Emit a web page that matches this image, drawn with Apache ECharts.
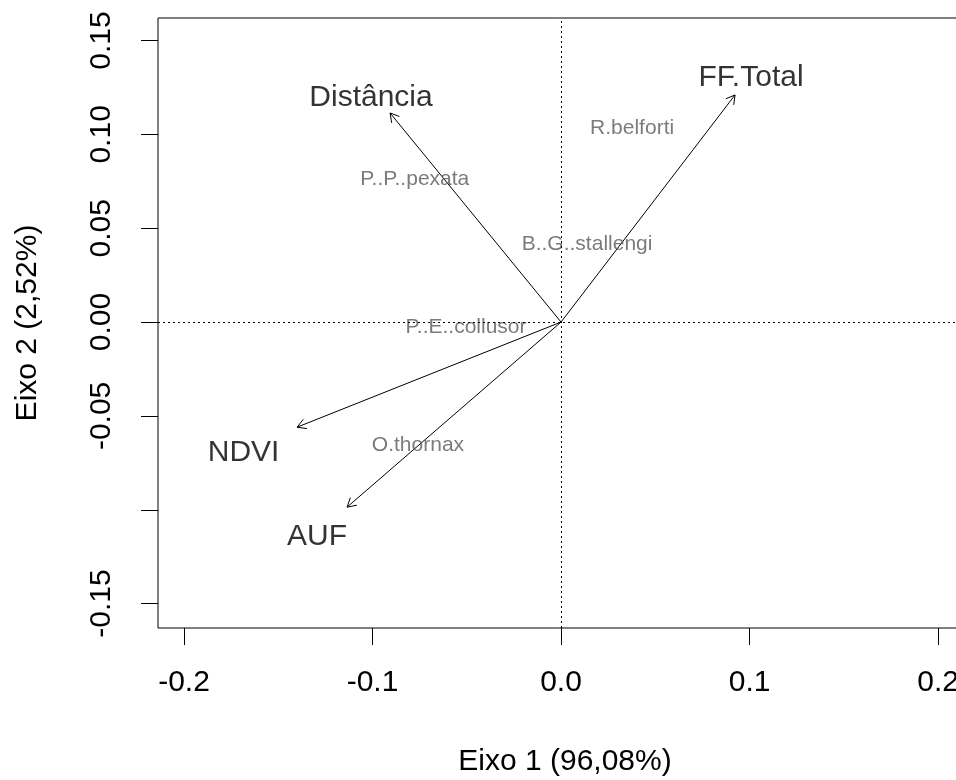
<!DOCTYPE html>
<html>
<head>
<meta charset="utf-8">
<script src="https://cdn.jsdelivr.net/npm/echarts@6/dist/echarts.min.js"></script>
<style>
html,body{margin:0;padding:0;background:#fff;}
#chart{width:956px;height:780px;}
</style>
</head>
<body>
<div id="chart"></div>
<script>
// Axis ticks
const xTicks = [-0.2, -0.1, 0, 0.1, 0.2];
const yTicks = [-0.15, -0.1, -0.05, 0, 0.05, 0.1, 0.15];
const yTickLabels = [-0.15, -0.05, 0, 0.05, 0.1, 0.15];

// Environmental vectors (arrow tips)
const envNames = ['FF.Total', 'Distância', 'NDVI', 'AUF'];
const envX = [0.0923, -0.0907, -0.140, -0.1135];
const envY = [0.121, 0.1114, -0.056, -0.0986];
// Environmental label positions
const envLabelX = [0.1008, -0.1008, -0.1684, -0.1294];
const envLabelY = [0.130, 0.1195, -0.0695, -0.1145];

// Species scores
const spNames = ['R.belforti', 'P..P..pexata', 'B..G..stallengi', 'P..E..collusor', 'O.thornax'];
const spX = [0.0377, -0.0776, 0.0138, -0.0504, -0.0759];
const spY = [0.1032, 0.0763, 0.0416, -0.0026, -0.0655];

const FONT = 'Liberation Sans, Arial, sans-serif';

const arrowData = envX.map((x, i) => [x, envY[i]]);
const envLabelData = envNames.map((n, i) => ({ name: n, value: [envLabelX[i], envLabelY[i]] }));
const spData = spNames.map((n, i) => ({ name: n, value: [spX[i], spY[i]] }));

const chart = echarts.init(document.getElementById('chart'), null, { renderer: 'canvas' });

chart.setOption({
  backgroundColor: '#fff',
  animation: false,
  grid: {
    left: 158, top: 18, bottom: 152, right: -16,
    outerBoundsMode: 'none',
    containLabel: false,
    show: true, borderColor: '#000', borderWidth: 1, backgroundColor: 'transparent'
  },
  xAxis: {
    type: 'value', min: -0.2138, max: 0.218,
    name: 'Eixo 1 (96,08%)', nameLocation: 'middle', nameGap: 119,
    nameTextStyle: { fontFamily: FONT, fontSize: 30, color: '#000' },
    axisLine: { show: false, onZero: false },
    axisTick: { show: true, inside: false, length: 17, lineStyle: { color: '#000', width: 1 }, customValues: xTicks },
    axisLabel: {
      show: true, margin: 40, fontFamily: FONT, fontSize: 30, color: '#000',
      customValues: xTicks,
      formatter: v => v.toFixed(1)
    },
    splitLine: { show: false }
  },
  yAxis: {
    type: 'value', min: -0.163, max: 0.162,
    name: 'Eixo 2 (2,52%)', nameLocation: 'middle', nameGap: 115, nameRotate: 90,
    nameTextStyle: { fontFamily: FONT, fontSize: 30, color: '#000' },
    axisLine: { show: false, onZero: false },
    axisTick: { show: true, inside: false, length: 17, lineStyle: { color: '#000', width: 1 }, customValues: yTicks },
    axisLabel: {
      show: true, margin: 41, rotate: 90, fontFamily: FONT, fontSize: 30, color: '#000',
      customValues: yTickLabels,
      formatter: v => v.toFixed(2)
    },
    splitLine: { show: false }
  },
  series: [
    {
      type: 'custom',
      silent: true,
      data: arrowData,
      renderItem: function (params, api) {
        const p0 = api.coord([0, 0]);
        const p1 = api.coord([api.value(0), api.value(1)]);
        const ang = Math.atan2(p1[1] - p0[1], p1[0] - p0[0]);
        const L = 10, a = Math.PI / 6;
        const h1 = [p1[0] - L * Math.cos(ang - a), p1[1] - L * Math.sin(ang - a)];
        const h2 = [p1[0] - L * Math.cos(ang + a), p1[1] - L * Math.sin(ang + a)];
        return {
          type: 'group',
          children: [
            { type: 'line', shape: { x1: p0[0], y1: p0[1], x2: p1[0], y2: p1[1] }, style: { stroke: '#000', lineWidth: 1 } },
            { type: 'polyline', shape: { points: [h1, p1, h2] }, style: { stroke: '#000', lineWidth: 1, fill: null } }
          ]
        };
      },
      markLine: {
        silent: true,
        symbol: 'none',
        label: { show: false },
        lineStyle: { color: '#000', width: 1, type: [2, 3], opacity: 1 },
        data: [{ xAxis: 0 }, { yAxis: 0 }]
      },
      z: 3
    },
    {
      type: 'scatter',
      silent: true,
      symbolSize: 0,
      data: spData,
      label: {
        show: true, position: 'inside', formatter: p => p.name,
        fontFamily: FONT, fontSize: 21, color: '#5a5a5a'
      },
      z: 4
    },
    {
      type: 'scatter',
      silent: true,
      symbolSize: 0,
      data: envLabelData,
      label: {
        show: true, position: 'inside', formatter: p => p.name,
        fontFamily: FONT, fontSize: 30, color: '#000'
      },
      z: 5
    }
  ]
});
</script>
</body>
</html>
